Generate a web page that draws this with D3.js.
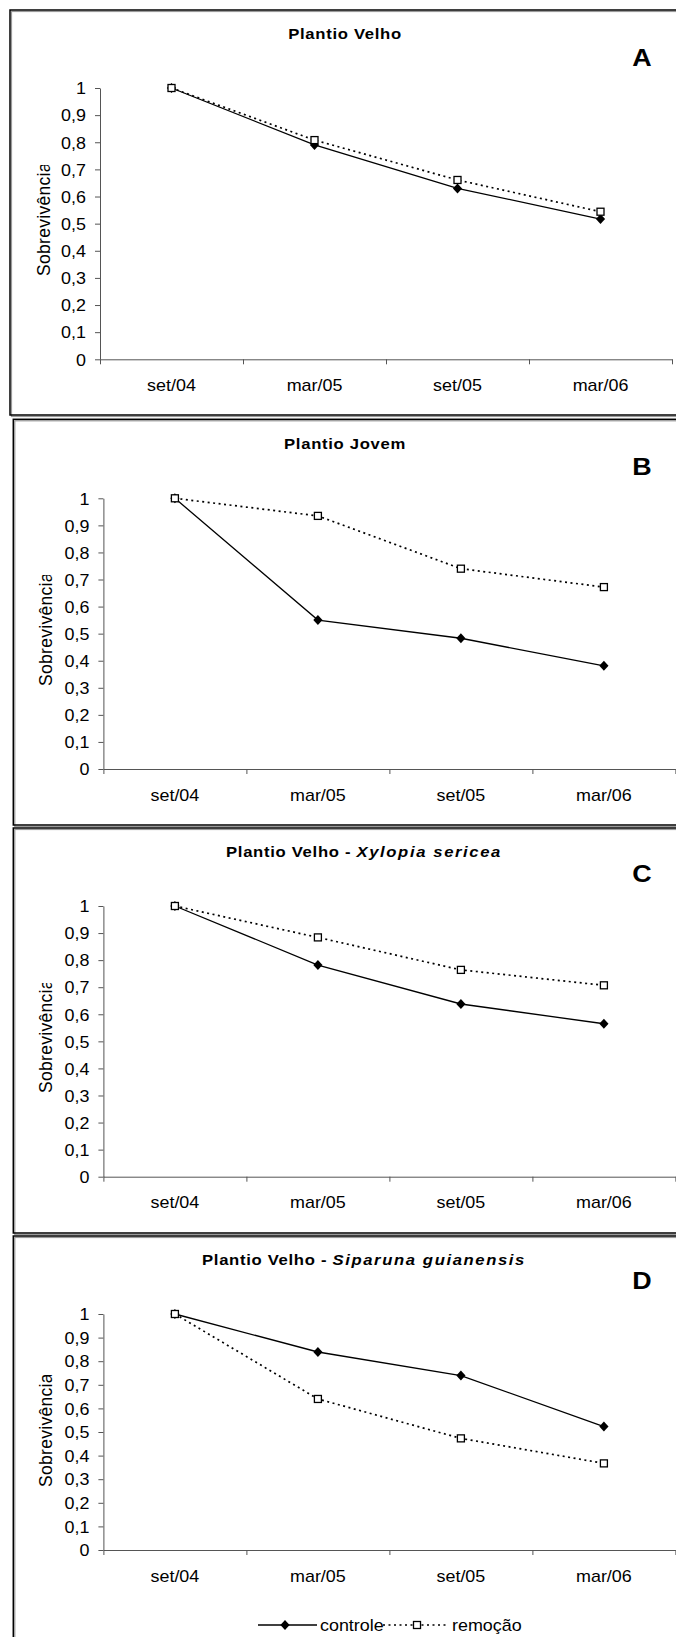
<!DOCTYPE html>
<html>
<head>
<meta charset="utf-8">
<script src="https://cdn.jsdelivr.net/npm/d3@7"></script>
<style>
  html, body { margin: 0; padding: 0; background: #fff; }
  svg { display: block; }
  text { font-family: "Liberation Sans", Arial, sans-serif; fill: #000; }
</style>
</head>
<body>
<svg id="chart" width="676" height="1637"></svg>
<script>
// ---------- data ----------
const categories = ["set/04", "mar/05", "set/05", "mar/06"];
const yTicks = [0, 0.1, 0.2, 0.3, 0.4, 0.5, 0.6, 0.7, 0.8, 0.9, 1];
const seriesNames = ["controle", "remoção"];
const yTitle = "Sobrevivência";

const titlesMain = ["Plantio Velho", "Plantio Jovem", "Plantio Velho - ", "Plantio Velho - "];
const titlesItalic = ["", "", "Xylopia sericea", "Siparuna guianensis"];
const panelLetters = ["A", "B", "C", "D"];

const controleA = [1.00, 0.790, 0.630, 0.517];
const remocaoA  = [1.00, 0.808, 0.661, 0.544];
const controleB = [1.00, 0.550, 0.483, 0.381];
const remocaoB  = [1.00, 0.935, 0.740, 0.672];
const controleC = [1.00, 0.782, 0.638, 0.565];
const remocaoC  = [1.00, 0.884, 0.764, 0.707];
const controleD = [1.00, 0.839, 0.739, 0.523];
const remocaoD  = [1.00, 0.640, 0.473, 0.367];

const controle = [controleA, controleB, controleC, controleD];
const remocao  = [remocaoA, remocaoB, remocaoC, remocaoD];

// ---------- layout ----------
const SX = 1.12; // horizontal stretch of text, as in the reference
const layout = [
  { box: [10, 10, 415],      axX: 100,   yTop: 88,    yBot: 359.3,  titleX: 345, titleY: 38.5,   letterY: 66,   ytX: 49.5, ytStart: 276,  ytClip: 165 },
  { box: [13.3, 419.3, 825], axX: 103.4, yTop: 498.3, yBot: 769,    titleX: 345, titleY: 448.5,  letterY: 475,  ytX: 51.5, ytStart: 686,  ytClip: 575 },
  { box: [13.3, 828, 1233],  axX: 103.4, yTop: 906,   yBot: 1176.7, titleX: 364, titleY: 857,    letterY: 882,  ytX: 51.5, ytStart: 1093, ytClip: 983 },
  { box: [13.3, 1236, 1700], axX: 103.4, yTop: 1314,  yBot: 1550,   titleX: 364, titleY: 1264.5, letterY: 1289, ytX: 51.5, ytStart: 1487, ytClip: 1375 }
];
const plotW = 572;

const svg = d3.select("#chart");
const defs = svg.append("defs");

const diamondPath = "M0,-5L4.6,0L0,5L-4.6,0Z";

layout.forEach((L, i) => {
  const g = svg.append("g");
  const [bx, by, bb] = L.box;
  g.append("rect").attr("x", bx + 1.5).attr("y", by + 1.5).attr("width", 720).attr("height", bb - by)
    .attr("fill", "none").attr("stroke", "#9a9a9a").attr("stroke-width", 1.2);
  g.append("rect").attr("x", bx).attr("y", by).attr("width", 720).attr("height", bb - by)
    .attr("fill", "none").attr("stroke", "#000").attr("stroke-width", 1.5);

  const x = d3.scaleBand().domain(categories).range([L.axX, L.axX + plotW]).padding(0);
  const xb = d3.scaleLinear().domain([0, categories.length]).range([L.axX, L.axX + plotW]);
  const y = d3.scaleLinear().domain([0, 1]).range([L.yBot, L.yTop]);
  const cx = c => x(c) + x.bandwidth() / 2;

  // y axis
  const ya = g.append("g").attr("transform", `translate(${L.axX},0)`)
    .call(d3.axisLeft(y).tickValues(yTicks).tickSize(5).tickSizeOuter(0)
      .tickFormat(d => String(Math.round(d * 10) / 10).replace(".", ",")));
  ya.select(".domain").attr("stroke", "#555");
  ya.selectAll(".tick line").attr("stroke", "#555");
  ya.selectAll(".tick text").attr("x", null).attr("dy", "0.36em")
    .attr("transform", `translate(-14,0) scale(${SX},1)`)
    .attr("font-size", 16).attr("font-family", "Liberation Sans, Arial, sans-serif").attr("fill", "#000");

  // x axis boundary ticks
  const xa = g.append("g").attr("transform", `translate(0,${L.yBot})`)
    .call(d3.axisBottom(xb).tickValues(d3.range(0, categories.length + 1)).tickSize(5).tickSizeOuter(0).tickFormat(""));
  xa.select(".domain").attr("stroke", "#555");
  xa.selectAll(".tick line").attr("stroke", "#555");

  // x labels
  const xl = g.append("g").attr("transform", `translate(0,${L.yBot})`)
    .call(d3.axisBottom(x).tickSize(0).tickSizeOuter(0));
  xl.select(".domain").remove();
  xl.selectAll(".tick text").attr("y", null).attr("dy", null)
    .attr("transform", `translate(0,31.5) scale(${SX},1)`)
    .attr("font-size", 16).attr("font-family", "Liberation Sans, Arial, sans-serif").attr("fill", "#000");

  // title
  const t = g.append("text").attr("text-anchor", "middle")
    .attr("transform", `translate(${L.titleX},${L.titleY}) scale(1.15,1)`)
    .attr("font-size", 14.5).attr("font-weight", "bold").attr("letter-spacing", 0.6);
  t.append("tspan").text(titlesMain[i]);
  if (titlesItalic[i]) t.append("tspan").attr("font-style", "italic").attr("letter-spacing", 1.4).text(titlesItalic[i]);

  // panel letter
  g.append("text").attr("text-anchor", "middle")
    .attr("transform", `translate(642,${L.letterY}) scale(1.12,1)`)
    .attr("font-size", 24).attr("font-weight", "bold").text(panelLetters[i]);

  // y title clipped
  const cid = "clip" + i;
  defs.append("clipPath").attr("id", cid).append("rect")
    .attr("x", 0).attr("y", L.ytClip).attr("width", 90).attr("height", L.ytStart - L.ytClip + 20);
  g.append("g").attr("clip-path", `url(#${cid})`)
    .append("text").attr("text-anchor", "start")
    .attr("transform", `translate(${L.ytX},${L.ytStart}) rotate(-90)`)
    .attr("font-size", 17.5).attr("letter-spacing", 0.3).text(yTitle);

  // lines
  const line = d3.line().x((d, j) => cx(categories[j])).y(d => y(d));
  g.append("path").datum(controle[i]).attr("d", line)
    .attr("fill", "none").attr("stroke", "#000").attr("stroke-width", 1.3);
  g.append("path").datum(remocao[i]).attr("d", line)
    .attr("fill", "none").attr("stroke", "#000").attr("stroke-width", 1.7).attr("stroke-dasharray", "2,3.5");

  g.selectAll(".dia").data(controle[i]).join("path")
    .attr("transform", (d, j) => `translate(${cx(categories[j])},${y(d)})`)
    .attr("d", diamondPath).attr("fill", "#000");
  g.selectAll(".sq").data(remocao[i]).join("rect")
    .attr("x", (d, j) => cx(categories[j]) - 3.5).attr("y", d => y(d) - 3.5)
    .attr("width", 7).attr("height", 7)
    .attr("fill", "#fff").attr("stroke", "#000").attr("stroke-width", 1.3);
});

// legend
const lg = svg.append("g").attr("transform", "translate(0,1625)");
lg.append("line").attr("x1", 258).attr("x2", 317).attr("y1", 0).attr("y2", 0).attr("stroke", "#000").attr("stroke-width", 1.3);
lg.append("path").attr("transform", "translate(285,0)").attr("d", diamondPath).attr("fill", "#000");
lg.append("text").attr("transform", `translate(320,5.5) scale(${SX},1)`).attr("font-size", 16).text(seriesNames[0]);
lg.append("line").attr("x1", 383).attr("x2", 448).attr("y1", 0).attr("y2", 0).attr("stroke", "#000")
  .attr("stroke-width", 1.7).attr("stroke-dasharray", "2,3.5");
lg.append("rect").attr("x", 413.5).attr("y", -3.5).attr("width", 7).attr("height", 7)
  .attr("fill", "#fff").attr("stroke", "#000").attr("stroke-width", 1.3);
lg.append("text").attr("transform", `translate(452,5.5) scale(${SX},1)`).attr("font-size", 16).text(seriesNames[1]);
</script>
</body>
</html>
